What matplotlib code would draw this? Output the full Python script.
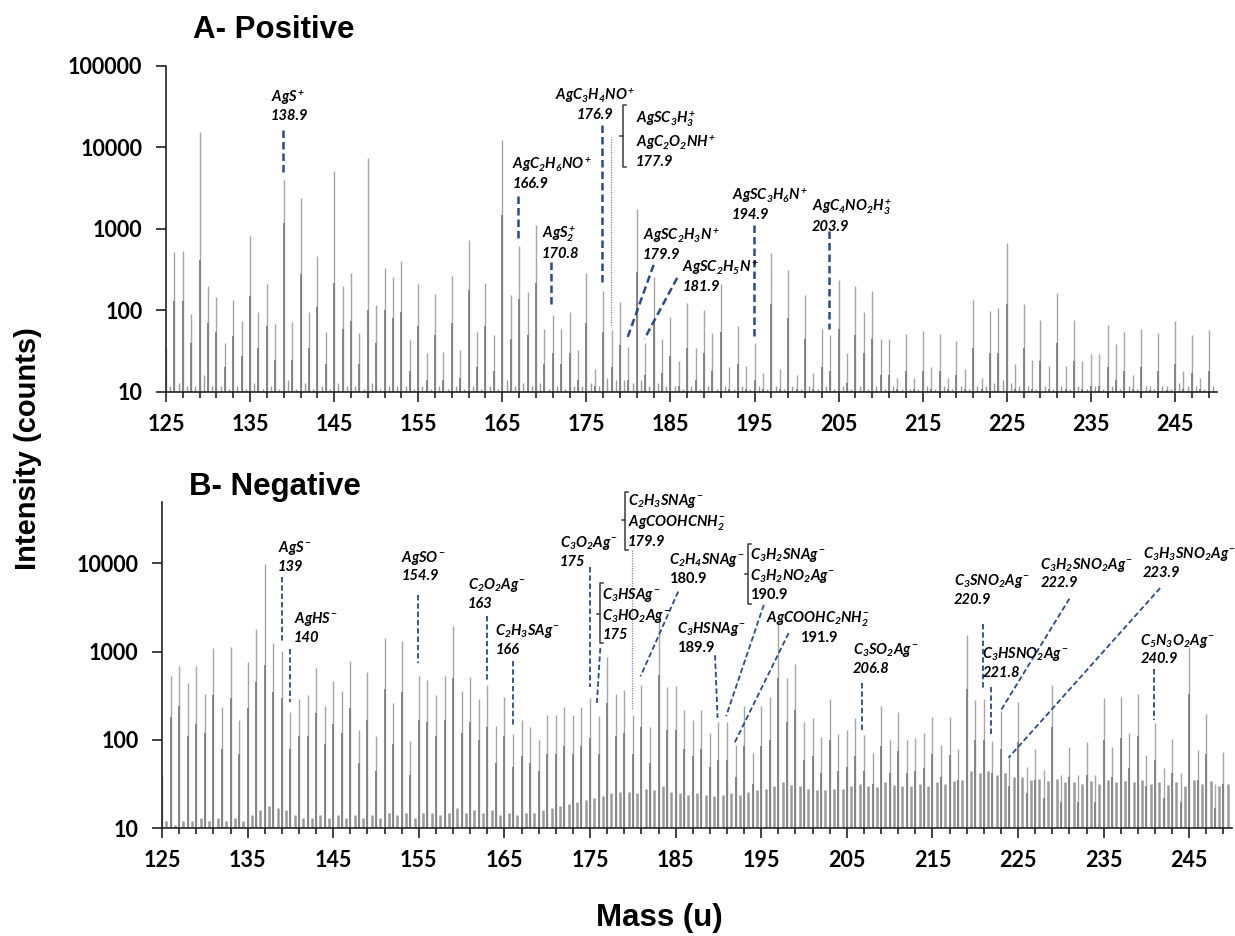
import matplotlib
matplotlib.use("Agg")
import matplotlib.pyplot as plt
import numpy as np
from matplotlib.ticker import FixedLocator, NullLocator

plt.rcParams['font.family'] = ['Lato', 'DejaVu Sans']
plt.rcParams['font.weight'] = 'bold'
plt.rcParams['mathtext.fontset'] = 'custom'
plt.rcParams['mathtext.it'] = 'Lato:italic:bold'
plt.rcParams['mathtext.rm'] = 'Lato:italic:bold'
plt.rcParams['mathtext.bf'] = 'Lato:italic:bold'

# nominal masses (u)
mass = np.arange(125, 250)

# positive ion spectrum: tallest peak, darker base and small in-between counts
pos_main = [35, 520, 540, 91, 15500, 200, 145, 40, 133, 75,
            815, 97, 210, 69, 4000, 72, 2400, 97, 460, 55,
            5200, 200, 290, 53, 7400, 117, 330, 255, 405, 44,
            210, 30, 160, 31, 265, 33, 740, 55, 220, 50,
            12300, 155, 610, 167, 1120, 60, 88, 59, 97, 33,
            285, 19, 175, 57, 127, 36, 1780, 40, 255, 45,
            84, 24, 123, 35, 100, 53, 210, 20, 64, 21,
            40, 17, 510, 19, 310, 16, 155, 17, 60, 50,
            240, 30, 200, 97, 175, 45, 45, 15, 51, 15,
            56, 20, 51, 15, 42, 19, 133, 15, 99, 107,
            670, 22, 120, 25, 76, 21, 165, 21, 77, 24,
            29, 29, 67, 39, 54, 16, 59, 12, 53, 12,
            75, 18, 50, 15, 57]
pos_side = [14, 130, 130, 40, 420, 70, 55, 20, 48, 28,
            150, 35, 65, 25, 1200, 25, 280, 35, 110, 22,
            220, 60, 75, 22, 100, 40, 100, 80, 95, 18,
            65, 14, 50, 14, 70, 15, 180, 20, 65, 18,
            1500, 45, 140, 50, 220, 22, 30, 22, 30, 14,
            70, 12, 55, 20, 38, 14, 300, 16, 70, 17,
            28, 12, 35, 14, 30, 18, 55, 11, 22, 11,
            14, 11, 120, 11, 80, 11, 45, 11, 20, 18,
            60, 13, 50, 30, 45, 16, 16, 11, 18, 11,
            18, 11, 18, 11, 16, 11, 35, 11, 30, 30,
            120, 11, 35, 11, 24, 11, 40, 11, 24, 11,
            12, 12, 20, 14, 18, 11, 20, 10.5, 18, 10.5,
            22, 11, 17, 11, 18]
pos_base = [12, 13, 12, 12, 16, 12, 12, 11, 12, 11,
            13, 11, 12, 11, 14, 11, 13, 11, 12, 11,
            13, 12, 12, 11, 13, 11, 12, 12, 12, 11,
            12, 11, 12, 11, 12, 11, 12, 11, 12, 11,
            14, 12, 13, 12, 13, 11, 12, 11, 12, 12,
            13, 12, 15, 14, 14, 13, 14, 12, 13, 12,
            12, 11, 12, 11, 12, 11, 12, 11, 12, 11,
            12, 11, 12, 11, 12, 11, 12, 11, 12, 11,
            12, 11, 12, 11, 12, 11, 12, 11, 11, 11,
            12, 11, 12, 11, 12, 11, 12, 12, 13, 14,
            13, 12, 12, 11, 12, 11, 12, 11, 12, 11,
            12, 11, 12, 11, 12, 11, 12, 11, 12, 11,
            13, 12, 12, 11, 12]

# negative ion spectrum
neg_main = [40, 525, 690, 440, 690, 330, 1110, 235, 1140, 170,
            770, 1790, 9800, 1240, 1020, 205, 290, 320, 660, 240,
            470, 360, 790, 128, 590, 111, 1410, 260, 1320, 98,
            535, 480, 325, 535, 1960, 360, 510, 290, 420, 145,
            305, 117, 170, 142, 100, 190, 190, 235, 190, 235,
            295, 187, 870, 330, 370, 190, 420, 140, 2200, 400,
            405, 220, 170, 220, 119, 161, 161, 88, 243, 71,
            245, 310, 2140, 500, 720, 161, 175, 107, 290, 116,
            128, 175, 114, 71, 245, 100, 205, 100, 104, 119,
            184, 88, 180, 80, 1550, 283, 290, 97, 210, 65,
            267, 50, 80, 46, 420, 40, 84, 40, 96, 40,
            295, 84, 310, 119, 330, 68, 155, 48, 102, 42,
            1140, 77, 195, 32, 73]
neg_side = [20, 180, 240, 110, 150, 120, 320, 80, 300, 70,
            230, 450, 700, 350, 300, 80, 110, 110, 200, 90,
            150, 120, 230, 55, 170, 45, 380, 90, 350, 40,
            170, 160, 110, 170, 500, 120, 160, 100, 140, 55,
            110, 50, 65, 55, 45, 70, 70, 85, 70, 85,
            105, 70, 260, 110, 120, 70, 140, 55, 550, 130,
            130, 80, 65, 80, 50, 60, 60, 38, 85, 32,
            85, 100, 500, 160, 220, 60, 65, 42, 100, 45,
            50, 65, 45, 32, 85, 42, 75, 42, 45, 48,
            70, 38, 68, 35, 380, 100, 100, 42, 80, 30,
            95, 25, 35, 22, 140, 20, 38, 20, 40, 20,
            100, 38, 105, 48, 110, 30, 60, 22, 42, 20,
            330, 35, 70, 17, 32]
neg_base = [12, 11, 12, 12, 13, 12, 13, 12, 13, 12,
            14, 16, 18, 17, 16, 14, 13, 13, 14, 13,
            14, 13, 14, 13, 14, 13, 15, 14, 15, 13,
            15, 15, 14, 15, 17, 15, 16, 15, 16, 14,
            15, 14, 15, 15, 16, 17, 18, 19, 20, 21,
            22, 23, 25, 26, 26, 25, 28, 27, 30, 26,
            25, 24, 25, 24, 23, 24, 25, 24, 26, 27,
            28, 30, 33, 31, 30, 28, 27, 27, 28, 28,
            30, 32, 30, 29, 33, 31, 30, 30, 32, 30,
            33, 32, 34, 35, 45, 42, 44, 40, 42, 38,
            38, 35, 36, 34, 36, 33, 33, 32, 34, 32,
            35, 33, 34, 33, 35, 32, 33, 31, 33, 30,
            35, 32, 34, 30, 32]

# peak labels: (formula lines, assigned mass, text x, text log10(y), align, upright number)
pos_labels = [
    ([r'$AgS^+$'], '138.9', 137.5, 4.52, 'left', False),
    ([r'$AgC_2H_6NO^+$'], '166.9', 166.2, 3.69, 'left', False),
    ([r'$AgS_2^+$'], '170.8', 169.7, 2.84, 'left', False),
    ([r'$AgC_3H_4NO^+$'], '176.9', 176.0, 4.54, 'center', False),
    ([r'$AgSC_3H_3^+$', r'$AgC_2O_2NH^+$'], '177.9', 180.85, 4.11, 'left', False),
    ([r'$AgSC_2H_3N^+$'], '179.9', 181.7, 2.82, 'left', False),
    ([r'$AgSC_2H_5N^+$'], '181.9', 186.4, 2.43, 'left', False),
    ([r'$AgSC_3H_6N^+$'], '194.9', 192.3, 3.31, 'left', False),
    ([r'$AgC_4NO_2H_3^+$'], '203.9', 201.8, 3.17, 'left', False),
]
# leader lines: (x top, log10 top, x bottom, log10 bottom, dotted)
pos_leaders = [
    (138.9, 4.21, 138.9, 3.66, False),
    (166.9, 3.40, 166.9, 2.84, False),
    (170.8, 2.60, 170.8, 2.05, False),
    (176.9, 4.28, 176.9, 2.31, False),
    (177.9, 4.11, 177.9, 1.82, True),
    (183.0, 2.56, 179.9, 1.67, False),
    (185.8, 2.40, 181.9, 1.65, False),
    (194.9, 3.05, 194.9, 1.68, False),
    (203.9, 2.97, 203.9, 1.77, False),
]
pos_brackets = [(179.35, 4.52, 3.76, 4.14)]

neg_labels = [
    ([r'$AgS^-$'], '139', 138.55, 4.08, 'left', False),
    ([r'$AgHS^-$'], '140', 140.42, 3.27, 'left', False),
    ([r'$AgSO^-$'], '154.9', 152.94, 3.97, 'left', False),
    ([r'$C_2O_2Ag^-$'], '163', 160.70, 3.66, 'left', False),
    ([r'$C_2H_3SAg^-$'], '166', 163.93, 3.14, 'left', False),
    ([r'$C_3O_2Ag^-$'], '175', 171.50, 4.13, 'left', False),
    ([r'$C_3HSAg^-$', r'$C_3HO_2Ag^-$'], '175', 176.43, 3.43, 'left', False),
    ([r'$C_2H_3SNAg^-$', r'$AgCOOHCNH_2^-$'], '179.9', 179.43, 4.49, 'left', False),
    ([r'$C_2H_4SNAg^-$'], '180.9', 184.21, 3.94, 'left', True),
    ([r'$C_3HSNAg^-$'], '189.9', 185.18, 3.16, 'left', True),
    ([r'$C_3H_2SNAg^-$', r'$C_3H_2NO_2Ag^-$'], '190.9', 193.73, 3.88, 'left', True),
    ([r'$AgCOOHC_2NH_2^-$'], '191.9', 201.69, 3.28, 'center', True),
    ([r'$C_3SO_2Ag^-$'], '206.8', 205.69, 2.92, 'left', False),
    ([r'$C_3SNO_2Ag^-$'], '220.9', 217.50, 3.70, 'left', False),
    ([r'$C_3HSNO_2Ag^-$'], '221.8', 220.84, 2.88, 'left', False),
    ([r'$C_3H_2SNO_2Ag^-$'], '222.9', 227.60, 3.89, 'left', False),
    ([r'$C_3H_3SNO_2Ag^-$'], '223.9', 239.57, 4.01, 'left', False),
    ([r'$C_5N_3O_2Ag^-$'], '240.9', 239.30, 3.03, 'left', False),
]
neg_leaders = [
    (139.0, 3.84, 139.0, 3.12, False),
    (140.0, 3.03, 140.0, 2.43, False),
    (154.9, 3.64, 154.9, 2.87, False),
    (163.0, 3.40, 163.0, 2.68, False),
    (166.0, 2.89, 166.0, 2.17, False),
    (175.0, 3.96, 175.0, 2.60, False),
    (176.2, 3.04, 175.8, 2.42, False),
    (179.9, 4.15, 179.9, 2.34, True),
    (185.3, 3.68, 180.9, 2.72, False),
    (189.6, 2.96, 189.9, 2.25, False),
    (195.3, 3.53, 190.9, 2.27, False),
    (198.2, 3.21, 191.9, 1.97, False),
    (206.8, 2.65, 206.8, 2.09, False),
    (220.9, 3.31, 220.9, 2.58, False),
    (221.8, 2.60, 221.8, 2.04, False),
    (231.0, 3.60, 222.9, 2.32, False),
    (241.6, 3.72, 223.9, 1.80, False),
    (240.9, 2.80, 240.9, 2.23, False),
]
neg_brackets = [(176.13, 3.78, 3.10, 3.43), (179.04, 4.81, 4.15, 4.49),
                (193.41, 4.22, 3.54, 3.88)]

LEADER = '#2b4a8b'


def draw_spectrum(ax, main, side, base, top, yticks, base_lw):
    ax.vlines(mass + 0.5, 10, base, color='#9a9a9a', lw=base_lw)
    ax.vlines(mass, 10, main, color='#a6a6a6', lw=1.0)
    ax.vlines(mass, 10, side, color='#808080', lw=1.3)
    ax.set_yscale('log')
    ax.set_ylim(10, top)
    ax.set_xlim(125, 250)
    ax.xaxis.set_major_locator(FixedLocator(np.arange(125, 246, 10)))
    ax.xaxis.set_minor_locator(FixedLocator(np.arange(125, 250, 2)))
    ax.set_yticks(yticks)
    ax.set_yticklabels([str(t) for t in yticks])
    ax.yaxis.set_minor_locator(NullLocator())
    for s in ['top', 'right']:
        ax.spines[s].set_visible(False)
    for s in ['left', 'bottom']:
        ax.spines[s].set_linewidth(1.2)
        ax.spines[s].set_color('#222222')
    ax.tick_params(axis='both', which='major', direction='out', length=7,
                   width=1.2, labelsize=15.5, color='#222222')
    ax.tick_params(axis='x', which='major', pad=9)
    ax.tick_params(axis='y', which='major', pad=10)
    ax.tick_params(axis='x', which='minor', direction='out', length=4,
                   width=1.2, color='#222222')


def annotate(ax, labels, leaders, brackets, lw):
    for formulas, num, x, ly, ha, upright in labels:
        # pull the charge sign in against the formula
        lines = [f.replace('^+', r'^{\!+}').replace('^-', r'^{\!-}')
                 for f in formulas] + [num]
        ax.text(x, 10 ** ly, '\n'.join(lines), ha=ha, va='center',
                fontsize=10.5, fontweight='bold',
                fontstyle='normal' if upright else 'italic',
                linespacing=1.25, clip_on=False, zorder=5)
    for x0, l0, x1, l1, dotted in leaders:
        if dotted:
            ax.plot([x0, x1], [10 ** l0, 10 ** l1], color='#6a86c4', lw=0.9,
                    ls=(0, (1, 1)), clip_on=False, zorder=4)
        else:
            ax.plot([x0, x1], [10 ** l0, 10 ** l1], color=LEADER, lw=lw,
                    ls=(0, (3, 1.6)), clip_on=False, zorder=4)
    for bx, ltop, lbot, lmid in brackets:
        ax.plot([bx + 0.35, bx, bx, bx + 0.35],
                [10 ** ltop, 10 ** ltop, 10 ** lbot, 10 ** lbot],
                color='#3a3a3a', lw=1.1, clip_on=False, zorder=4)
        ax.plot([bx - 0.35, bx], [10 ** lmid, 10 ** lmid],
                color='#3a3a3a', lw=1.1, clip_on=False, zorder=4)


fig = plt.figure(figsize=(12.35, 9.36), dpi=100)
ax1 = fig.add_axes([0.1344, 0.5812, 0.851, 0.3483])
ax2 = fig.add_axes([0.1312, 0.1151, 0.8664, 0.349])

draw_spectrum(ax1, pos_main, pos_side, pos_base, 100000,
              [10, 100, 1000, 10000, 100000], 1.0)
draw_spectrum(ax2, neg_main, neg_side, neg_base, 50000,
              [10, 100, 1000, 10000], 1.8)
annotate(ax1, pos_labels, pos_leaders, pos_brackets, 1.8)
annotate(ax2, neg_labels, neg_leaders, neg_brackets, 1.3)

title_font = dict(family='Liberation Sans', fontweight='bold')
fig.text(193 / 1235, 1 - 30 / 936, 'A- Positive', fontsize=22.5, ha='left',
         va='center', **title_font)
fig.text(189 / 1235, 1 - 487 / 936, 'B- Negative', fontsize=22.5, ha='left',
         va='center', **title_font)
fig.text(28 / 1235, 1 - 449 / 936, 'Intensity (counts)', fontsize=21,
         rotation=90, ha='center', va='center', **title_font)
fig.text(659 / 1235, 1 - 918 / 936, 'Mass (u)', fontsize=22.5, ha='center',
         va='center', **title_font)

fig.savefig('out.png', dpi=100)
